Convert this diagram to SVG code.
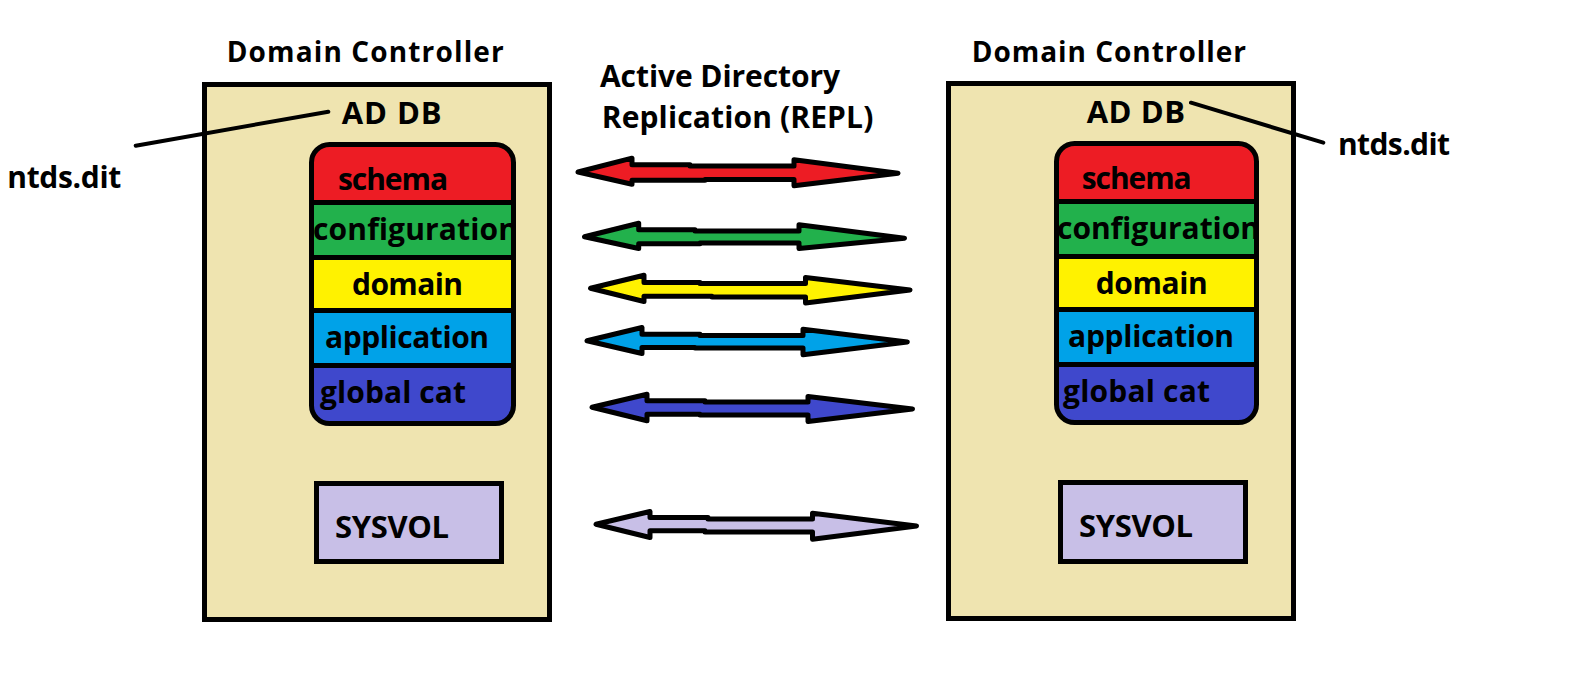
<svg xmlns="http://www.w3.org/2000/svg" width="1582" height="699" viewBox="0 0 1582 699">
<defs>
<style>
.bg{fill:#FFFFFF}
.dc{fill:#EFE4B0;stroke:#000;stroke-width:5}
.t{font-family:"Open Sans","Noto Sans","DejaVu Sans",sans-serif;font-weight:bold;fill:#000}
.title{font-size:28px}
.lbl{font-size:31px}
.band{font-size:30px}
.repl{font-size:30px}
.arrow{stroke:#000;stroke-width:5;stroke-linejoin:round}
.lead{stroke:#000;stroke-width:4;stroke-linecap:round;fill:none}
.div{stroke:#000;stroke-width:5}
.outline{fill:none;stroke:#000;stroke-width:5}
.sys{fill:#C8BFE7;stroke:#000;stroke-width:5}
.red{fill:#ED1C24}
.green{fill:#22B14C}
.yellow{fill:#FFF200}
.cyan{fill:#00A2E8}
.indigo{fill:#3F48CC}
.lav{fill:#C8BFE7}
</style>
<clipPath id="clipL"><rect x="311.5" y="144.5" width="202" height="279" rx="18"/></clipPath>
<clipPath id="clipR"><rect x="1056.5" y="143.5" width="200" height="279" rx="18"/></clipPath>
</defs>
<rect class="bg" x="0" y="0" width="1582" height="699"/>

<g id="dc-left">
<text class="t title" x="226.7" y="61.7" textLength="277">Domain Controller</text>
<rect class="dc" x="204.5" y="84.5" width="345" height="535"/>
<text class="t lbl" x="341.7" y="124" textLength="100">AD DB</text>
</g>

<g id="addb-left">
<g clip-path="url(#clipL)">
<rect class="red" x="311.5" y="144.5" width="202" height="58"/>
<rect class="green" x="311.5" y="202.5" width="202" height="55"/>
<rect class="yellow" x="311.5" y="257.5" width="202" height="53"/>
<rect class="cyan" x="311.5" y="310.5" width="202" height="55"/>
<rect class="indigo" x="311.5" y="365.5" width="202" height="58"/>
<text class="t band" x="338" y="190" textLength="110">schema</text>
<text class="t band" x="313" y="240" textLength="205">configuration</text>
<text class="t band" x="352" y="295" textLength="111">domain</text>
<text class="t band" x="325" y="347.7" textLength="164">application</text>
<text class="t band" x="320" y="403" textLength="146">global cat</text>
</g>
<line class="div" x1="311.5" y1="202.5" x2="513.5" y2="202.5"/>
<line class="div" x1="311.5" y1="257.5" x2="513.5" y2="257.5"/>
<line class="div" x1="311.5" y1="310.5" x2="513.5" y2="310.5"/>
<line class="div" x1="311.5" y1="365.5" x2="513.5" y2="365.5"/>
<rect class="outline" x="311.5" y="144.5" width="202" height="279" rx="18"/>
</g>

<g id="sysvol-left">
<rect class="sys" x="316.5" y="483.5" width="185" height="78"/>
<text class="t lbl" x="335" y="538.3" textLength="114">SYSVOL</text>
</g>

<g id="ntds-left">
<text class="t band" x="7.3" y="188" textLength="114">ntds.dit</text>
</g>

<g id="dc-right">
<text class="t title" x="971.7" y="61.7" textLength="274.3">Domain Controller</text>
<rect class="dc" x="948.5" y="83.5" width="345" height="535"/>
<text class="t lbl" x="1086.7" y="123.3" textLength="98.3">AD DB</text>
</g>

<g id="addb-right">
<g clip-path="url(#clipR)">
<rect class="red" x="1056.5" y="143.5" width="200" height="58"/>
<rect class="green" x="1056.5" y="201.5" width="200" height="55"/>
<rect class="yellow" x="1056.5" y="256.5" width="200" height="53"/>
<rect class="cyan" x="1056.5" y="309.5" width="200" height="55"/>
<rect class="indigo" x="1056.5" y="364.5" width="200" height="58"/>
<text class="t band" x="1081.7" y="189" textLength="110">schema</text>
<text class="t band" x="1057" y="239.3" textLength="203">configuration</text>
<text class="t band" x="1095.7" y="294" textLength="112">domain</text>
<text class="t band" x="1068" y="346.7" textLength="166">application</text>
<text class="t band" x="1063" y="402.3" textLength="147">global cat</text>
</g>
<line class="div" x1="1056.5" y1="201.5" x2="1256.5" y2="201.5"/>
<line class="div" x1="1056.5" y1="256.5" x2="1256.5" y2="256.5"/>
<line class="div" x1="1056.5" y1="309.5" x2="1256.5" y2="309.5"/>
<line class="div" x1="1056.5" y1="364.5" x2="1256.5" y2="364.5"/>
<rect class="outline" x="1056.5" y="143.5" width="200" height="279" rx="18"/>
</g>

<g id="sysvol-right">
<rect class="sys" x="1060.5" y="482.5" width="185" height="79"/>
<text class="t lbl" x="1079" y="536.7" textLength="114">SYSVOL</text>
</g>

<g id="ntds-right">
<text class="t band" x="1338" y="155" textLength="112">ntds.dit</text>
</g>

<g id="repl-label">
<text class="t repl" x="600" y="86.7" textLength="240">Active Directory</text>
<text class="t repl" x="601.7" y="127.5" textLength="271.6">Replication (REPL)</text>
</g>

<g id="connectors">
<line class="lead" x1="135.7" y1="145.7" x2="328.3" y2="111.7"/>
<line class="lead" x1="1191" y1="102.7" x2="1323.3" y2="142.7"/>
<path class="arrow red" d="M578,172 L632,158.2 L632,164.8 L690,164.8 L690,166 L794,166 L794,159.8 L898,173.3 L794,185.8 L794,179.5 L705,179.5 L705,180.3 L632,180.3 L632,184.2 Z"/>
<path class="arrow green" d="M584.5,236.7 L638.7,223.2 L638.7,229.8 L695,229.8 L695,231 L799,231 L799,224.8 L904.5,238.3 L799,248.5 L799,243 L700,243 L700,243.8 L638.7,243.8 L638.7,248.5 Z"/>
<path class="arrow yellow" d="M590.5,288.3 L644,275.2 L644,282.5 L700,282.5 L700,283.5 L805.5,283.5 L805.5,277.5 L910,290 L805.5,303 L805.5,297 L712,297 L712,296.3 L644,296.3 L644,301.5 Z"/>
<path class="arrow cyan" d="M587,340.7 L642,327.5 L642,334.2 L700,334.2 L700,335.5 L803,335.5 L803,329.2 L907.3,342 L803,354.8 L803,348 L695,348 L695,347.5 L642,347.5 L642,353.5 Z"/>
<path class="arrow indigo" d="M592,407.3 L647,394.2 L647,400.8 L705,400.8 L705,402 L808,402 L808,396.5 L912.5,409 L808,421.5 L808,415 L700,415 L700,414.2 L647,414.2 L647,420.8 Z"/>
<path class="arrow lav" d="M596,524.3 L650,511.5 L650,517.5 L708,517.5 L708,519 L812.5,519 L812.5,513.2 L916.5,526 L812.5,539.2 L812.5,532 L705,532 L705,530.8 L650,530.8 L650,537.5 Z"/>
</g>
</svg>
